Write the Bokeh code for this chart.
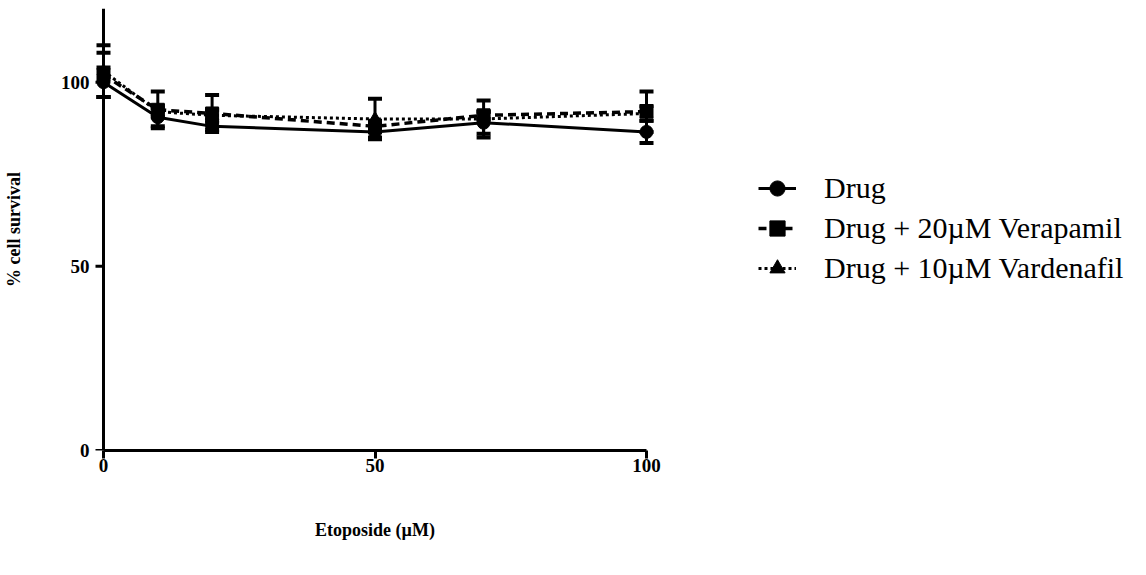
import numpy as np
from bokeh.plotting import figure
from bokeh.models import Range1d, FixedTicker, Legend, LegendItem, ColumnDataSource, Span
from bokeh.embed import file_html
from bokeh.resources import INLINE

# ---- data ----
conc = [0, 10, 20, 50, 70, 100]
drug = [100, 90.5, 88, 86.5, 89, 86.5]
drug_err = [4, 2.5, 1, 1.5, 3, 3]
verapamil = [102, 92.5, 91.5, 88, 91, 92]
verapamil_err = [6, 5, 5, 1.5, 1, 5.5]
vardenafil = [103, 92, 91, 90, 90, 91.5]
vardenafil_err = [7, 1.5, 1.5, 5.5, 5, 2]
x_ticks = [0, 50, 100]
y_ticks = [0, 50, 100]
labels = ["Drug", "Drug + 20\u00b5M Verapamil", "Drug + 10\u00b5M Vardenafil"]

W, H = 1146, 575
AX_X0, AX_X1 = 102, 645      # pixels of x = 0 and x = 100
PAD = 12                     # room so markers at the ends are not cut
FRAME_L = AX_X0 - PAD
FRAME_R = AX_X1 + PAD
FRAME_T, FRAME_B = 8, 450
PXU = (AX_X1 - AX_X0) / 100.0

p = figure(width=W, height=H, output_backend="svg", toolbar_location=None,
           x_range=Range1d(-PAD / PXU, 100 + PAD / PXU), y_range=Range1d(0, 120),
           min_border_left=FRAME_L, min_border_right=W - FRAME_R,
           min_border_top=FRAME_T, min_border_bottom=H - FRAME_B)
p.frame_width = FRAME_R - FRAME_L
p.frame_height = FRAME_B - FRAME_T
p.grid.visible = False
p.outline_line_color = None
p.background_fill_color = "white"
p.border_fill_color = "white"

for ax in (p.xaxis[0], p.yaxis[0]):
    ax.axis_line_width = 3
    ax.axis_line_color = "black"
    ax.major_tick_line_width = 3
    ax.major_tick_line_color = "black"
    ax.major_tick_in = 0
    ax.major_tick_out = 8
    ax.minor_tick_line_color = None
    ax.major_label_text_font = "Liberation Serif"
    ax.major_label_text_font_style = "bold"
    ax.major_label_text_font_size = "19px"
    ax.major_label_text_color = "black"
    ax.axis_label_text_font = "Liberation Serif"
    ax.axis_label_text_font_style = "bold"
    ax.axis_label_text_font_size = "18px"
    ax.axis_label_text_color = "black"

xa, ya = p.xaxis[0], p.yaxis[0]
xa.ticker = FixedTicker(ticks=x_ticks)
ya.ticker = FixedTicker(ticks=y_ticks)
xa.bounds = (0, 100)
xa.axis_label = "Etoposide (\u00b5M)"
ya.axis_label = "% cell survival"
xa.major_label_standoff = 0
xa.axis_label_standoff = 45
# y axis: labels from the panel axis, line and ticks drawn at x = 0
ya.axis_line_color = None
ya.major_tick_line_color = None
ya.major_tick_out = 0
ya.major_label_standoff = 2
ya.axis_label_standoff = 34

p.add_layout(Span(location=0, dimension="height", line_color="black", line_width=3))
p.ray(x=[0] * len(y_ticks), y=y_ticks, length=8, length_units="screen", angle=np.pi,
      line_color="black", line_width=3)

series = [
    (drug, drug_err, "solid", 3, "circle"),
    (verapamil, verapamil_err, "8 5", 3.5, "square"),
    (vardenafil, vardenafil_err, "3 3", 3, "triangle"),
]

items = []
for (vals, errs, dash, lw, marker), lab in zip(series, labels):
    lo = [v - e for v, e in zip(vals, errs)]
    hi = [v + e for v, e in zip(vals, errs)]
    src = ColumnDataSource(dict(x=conc, y=vals, lo=lo, hi=hi))
    p.segment(x0="x", y0="lo", x1="x", y1="hi", source=src, line_color="black", line_width=3)
    p.scatter(x="x", y="hi", source=src, marker="dash", size=14, line_color="black", line_width=4)
    p.scatter(x="x", y="lo", source=src, marker="dash", size=14, line_color="black", line_width=4)
    lr = p.line(x="x", y="y", source=src, line_color="black", line_width=lw, line_dash=dash)
    sr = p.scatter(x="x", y="y", source=src, marker=marker, size=13, fill_color="black", line_color="black")
    items.append(LegendItem(label=lab, renderers=[lr, sr]))

LEG_TOP = 168
legend = Legend(items=items, location=(757 - FRAME_R, FRAME_B - LEG_TOP - 120))
legend.border_line_color = None
legend.background_fill_alpha = 0
legend.padding = 0
legend.margin = 0
legend.spacing = 0
legend.glyph_width = 38
legend.glyph_height = 40
legend.label_height = 40
legend.label_standoff = 28
legend.label_text_font = "Liberation Serif"
legend.label_text_font_size = "30px"
legend.label_text_color = "black"
p.add_layout(legend, "right")

open("out.html", "w").write(file_html(p, INLINE))
